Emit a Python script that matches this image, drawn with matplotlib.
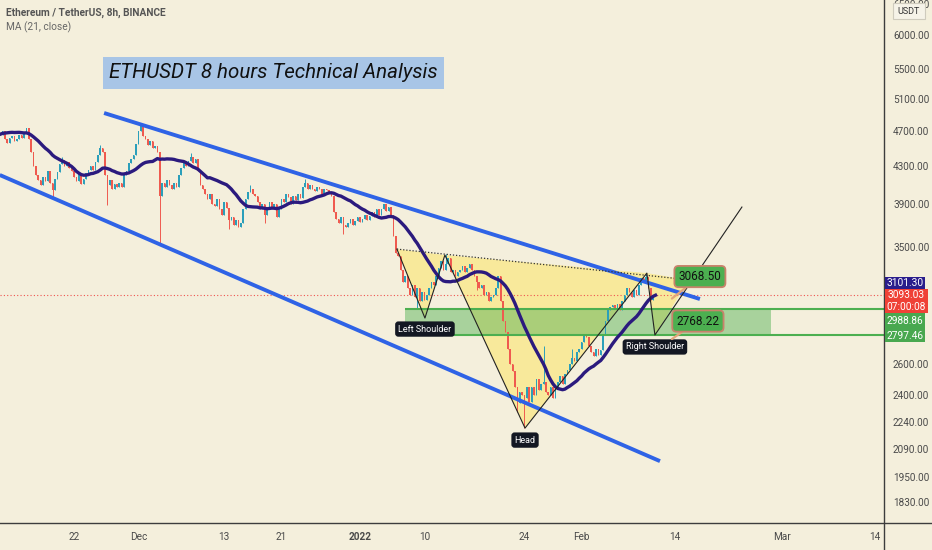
import numpy as np
import pandas as pd
import matplotlib
matplotlib.use("Agg")
import matplotlib.pyplot as plt
from matplotlib.patches import Rectangle
from matplotlib.lines import Line2D
from matplotlib.ticker import NullLocator, NullFormatter

plt.rcParams['font.family'] = ['Roboto', 'DejaVu Sans']

# 8h closes before the visible window (only feed the MA)
pre_closes = [4480, 4520, 4490, 4550, 4600, 4620, 4580, 4640, 4700, 4750,
              4720, 4780, 4810, 4760, 4700, 4650, 4720, 4780, 4700, 4680]

# 8h closes, 2021-11-11 16:00 .. 2022-02-11 08:00
closes = [
    4650, 4700, 4600, 4560, 4620,
    4640, 4580, 4610, 4650, 4620, 4680, 4740,
    4600, 4450, 4300,
    4200, 4150, 4100, 4180, 4140, 4240, 4120, 4040,
    4160, 4230, 4320, 4360, 4300, 4340, 4280, 4240,
    4180, 4140, 4210, 4110, 4160, 4220, 4260,
    4300, 4260, 4340, 4420, 4500, 4460,
    4200, 4100, 4150, 4060, 4110, 4080, 4120,
    4080, 4200, 4250, 4330, 4380, 4420,
    4550, 4700, 4760,
    4640, 4600, 4530, 4580, 4500, 4520, 4450,
    3980,
    4120, 4080, 4150,
    4100, 4050, 4120, 4080,
    4200, 4280, 4340, 4300,
    4350, 4400, 4330, 4380,
    4250, 4100, 4050, 4000,
    3950, 4000, 3900,
    3880, 3950, 3850, 3800, 3920, 3860, 3750,
    3780, 3700, 3750, 3680, 3720,
    3850, 3950, 4020, 4050, 4000,
    3980, 3920, 3850, 3900, 3800, 3850, 3920, 3860, 3900, 3780,
    3850, 3950, 3920, 4000, 3970, 3900, 3980, 3940, 4000, 3960,
    4080, 4120, 4050, 4100, 4060, 4030, 4080, 4050, 4000, 4060, 4040,
    4020, 3980, 3820,
    3760, 3720, 3780, 3700,
    3680,
    3720, 3760, 3700, 3740, 3780, 3730, 3760, 3800, 3750, 3790,
    3820, 3780, 3850, 3800,
    3850, 3900, 3830, 3870, 3800,
    3600, 3450,
    3420, 3300, 3200, 3250, 3150,
    3100, 3180, 3080, 3150, 3050, 3120, 3060,
    3100, 3150, 3200, 3180, 3250, 3320,
    3380, 3300, 3350, 3400,
    3280, 3300, 3250, 3280,
    3300, 3330, 3280, 3320, 3350, 3300,
    3250, 3200, 3150, 3180, 3100, 3120, 3050, 3080,
    3100, 3150, 3250,
    3050, 2900, 2820,
    2700, 2600, 2550,
    2450, 2350, 2420,
    2400, 2380, 2450, 2360,
    2450, 2400, 2500, 2430, 2470,
    2480,
    2420, 2400, 2450, 2380,
    2440, 2480, 2520, 2470, 2530, 2560,
    2600, 2640, 2620, 2680, 2700,
    2750, 2790, 2780,
    2720, 2680, 2650, 2700, 2660, 2690,
    2800, 2900, 2980,
    3000, 3020, 2990, 3030, 2980, 3050,
    3100, 3150, 3120,
    3080, 3140, 3100,
    3180, 3230, 3200,
    3240, 3150, 3060, 3100, 3093.03,
]

# long wicks (index into closes -> price)
wick_lows = {22: 3960, 45: 3890, 67: 3530, 96: 3660, 144: 3620, 175: 2990,
             217: 2300, 220: 2210, 111: 3720, 200: 3140}
wick_highs = {42: 4540, 59: 4790, 80: 4440, 187: 3440, 228: 2720, 271: 3270,
              26: 4400, 105: 4100, 128: 4160, 240: 2700}

last_price = 3093.03
ma_label = "3101.30"
level_hi = 2988.86
level_lo = 2797.46

y_ticks = [6500, 6000, 5500, 5100, 4700, 4300, 3900, 3500,
           2600, 2400, 2240, 2090, 1950, 1830]
x_tick_dates = ['2021-11-22', '2021-12-01', '2021-12-13', '2021-12-21', '2022-01-01',
                '2022-01-10', '2022-01-24', '2022-02-01', '2022-02-14', '2022-03-01',
                '2022-03-14']
x_tick_text = ['22', 'Dec', '13', '21', '2022', '10', '24', 'Feb', '14', 'Mar', '14']

# drawings: (time, price)
upper_channel = [('2021-11-26 05:00', 4920), ('2022-02-17 13:00', 3065)]
lower_channel = [('2021-11-11 15:00', 4202), ('2022-02-11 23:00', 2029)]
hs_points = [('2022-01-06 04:00', 3480),   # start
             ('2022-01-10 02:00', 2920),   # left shoulder
             ('2022-01-12 21:00', 3428),
             ('2022-01-24 02:00', 2207),   # head
             ('2022-02-10 03:00', 3274),
             ('2022-02-11 06:00', 2797),   # right shoulder
             ('2022-02-23 10:00', 3873)]
hs_right_top = ('2022-02-16 00:00', 3217)
neck_end = ('2022-02-17 13:00', 3209)
zone_span = ('2022-01-07 07:00', '2022-02-27 12:00')
target_anchor = '2022-02-13 15:00'
targets = [3068.50, 2768.22]

T0 = pd.Timestamp('2022-01-01')


def day(t):
    return (pd.Timestamp(t) - T0) / pd.Timedelta('1D')


BG = '#f4efdc'
UP = '#2b9fba'
DOWN = '#ef5a4f'
MA_COL = '#2b1a7e'
CH_COL = '#2f63e6'

fig = plt.figure(figsize=(9.32, 5.5), dpi=100, facecolor=BG)
ax = fig.add_axes([0, 27 / 550, 884 / 932, 523 / 550], facecolor=BG)

all_closes = np.array(pre_closes + closes, dtype=float)
opens = np.r_[all_closes[0], all_closes[:-1]]
times = pd.date_range(end='2022-02-11 08:00', periods=len(all_closes), freq='8h')
x = np.array([(t - T0) / pd.Timedelta('1D') for t in times])
highs = np.maximum(opens, all_closes)
lows = np.minimum(opens, all_closes)
n_pre = len(pre_closes)
for k, v in wick_highs.items():
    highs[n_pre + k] = max(highs[n_pre + k], v)
for k, v in wick_lows.items():
    lows[n_pre + k] = min(lows[n_pre + k], v)
cols = [UP if c >= o else DOWN for o, c in zip(opens, all_closes)]

ax.vlines(x, lows, highs, colors=cols, lw=0.7, zorder=3)
ax.bar(x, all_closes - opens, bottom=opens, width=0.22, color=cols, lw=0, zorder=3)

ma = pd.Series(all_closes).rolling(21).mean()
ax.plot(x, ma, color=MA_COL, lw=2.4, zorder=5)

# channel
for ln in (upper_channel, lower_channel):
    ax.plot([day(p[0]) for p in ln], [p[1] for p in ln], color=CH_COL, lw=2.8,
            solid_capstyle='butt', zorder=6)

# head & shoulders
hx = [day(p[0]) for p in hs_points]
hy = [p[1] for p in hs_points]
yellow = dict(fc='#ffe34d', alpha=0.45, ec='none', zorder=1)
ax.fill(hx[0:3], hy[0:3], **yellow)
ax.fill(hx[2:5], hy[2:5], **yellow)
ax.fill([hx[4], hx[5], day(hs_right_top[0])], [hy[4], hy[5], hs_right_top[1]], **yellow)
ax.plot(hx, hy, color='#222', lw=0.8, zorder=7)
ax.plot([hx[0], day(neck_end[0])], [hy[0], neck_end[1]], color='#333', lw=0.9,
        ls=(0, (1, 1.5)), zorder=7)

# zone
z0, z1 = day(zone_span[0]), day(zone_span[1])
ax.add_patch(Rectangle((z0, level_lo), z1 - z0, level_hi - level_lo, fc='#4caf50',
                       alpha=0.45, ec='none', zorder=2))
ax.hlines([level_hi, level_lo], z0, 80, color='#4caf50', lw=1.5, zorder=4)
ax.axhline(last_price, color='#ef5350', lw=0.8, ls=(0, (1, 2)), zorder=2)

lab = dict(ha='center', va='center', color='white', fontsize=6.5, zorder=10,
           textcoords='offset pixels',
           bbox=dict(boxstyle='round,pad=0.35', fc='#131722', ec='none'))
ax.annotate('Left Shoulder', (hx[1], hy[1]), xytext=(0, -11), **lab)
ax.annotate('Head', (hx[3], hy[3]), xytext=(0, -12), **lab)
ax.annotate('Right Shoulder', (hx[5], hy[5]), xytext=(0, -12), **lab)

ta = day(target_anchor)
for val, off in zip(targets, [(28, 22), (26, 18)]):
    ax.annotate(f'{val:.2f}', (ta, val), xytext=off, textcoords='offset pixels',
                ha='center', va='center', fontsize=8.5, color='#111', zorder=11,
                bbox=dict(boxstyle='round,pad=0.35', fc='#4caf50', ec='#c9826b', lw=1.3),
                arrowprops=dict(arrowstyle='-', color='#e2a67c', lw=1.6,
                                shrinkA=0, shrinkB=0))

ax.set_yscale('log')
ax.set_xlim(-50.35, 73.29)
ax.set_ylim(1733.5, 6559)
ax.yaxis.tick_right()
ax.set_yticks(y_ticks)
ax.set_yticklabels([f'{v:.2f}' for v in y_ticks])
ax.yaxis.set_minor_locator(NullLocator())
ax.yaxis.set_minor_formatter(NullFormatter())
ax.set_xticks([day(d) for d in x_tick_dates])
ax.set_xticklabels(x_tick_text)
ax.get_xticklabels()[4].set_fontweight('bold')
ax.tick_params(axis='y', length=0, pad=6.5, labelsize=7.2, colors='#4a4a4a')
ax.tick_params(axis='x', length=0, pad=6.5, labelsize=7.2, colors='#4a4a4a')
for s in ax.spines.values():
    s.set_visible(False)

fig.add_artist(Line2D([0, 1], [27 / 550, 27 / 550], color='#3d3d3d', lw=1))
fig.add_artist(Line2D([884 / 932, 884 / 932], [0, 1], color='#3d3d3d', lw=1))


def fx(px):
    return px / 932


def fy(py):
    return 1 - py / 550


# price labels on the axis
for x0, y0, w, h, c in [(885, 277, 40, 12, '#2a1d8c'), (885, 289, 43, 24, '#ef4136'),
                        (885, 313, 40, 29, '#48a84f')]:
    fig.add_artist(Rectangle((fx(x0), fy(y0 + h)), w / 932, h / 550, fc=c, ec='none',
                             transform=fig.transFigure, zorder=5))
for txt, yy, xx in [(ma_label, 283, 905), (f'{last_price:.2f}', 295, 906.5),
                    ('07:00:08', 307, 906.5), (f'{level_hi:.2f}', 321, 905),
                    (f'{level_lo:.2f}', 336, 905)]:
    fig.text(fx(xx), fy(yy), txt, color='white', fontsize=7.3, ha='center', va='center',
             zorder=6)

fig.add_artist(Rectangle((fx(893), fy(19)), 32 / 932, 16 / 550, fc='#f6f3e8', ec='#cfcbbd',
                         lw=0.8, transform=fig.transFigure, zorder=5))
fig.text(fx(909), fy(11), 'USDT', fontsize=6.5, color='#333', ha='center', va='center',
         zorder=6)

fig.text(fx(6), fy(13), 'Ethereum / TetherUS, 8h, BINANCE', fontsize=7.3,
         fontweight='bold', color='#555', va='center')
fig.text(fx(6), fy(27), 'MA (21, close)', fontsize=7.3, color='#666', va='center')

fig.text(fx(109), fy(73), 'ETHUSDT 8 hours Technical Analysis', fontsize=14.8,
         style='italic', color='#111', va='center', ha='left',
         bbox=dict(boxstyle='square,pad=0.3', fc='#a8c5e6', ec='none'))

fig.savefig('out.png', dpi=100, facecolor=BG)
